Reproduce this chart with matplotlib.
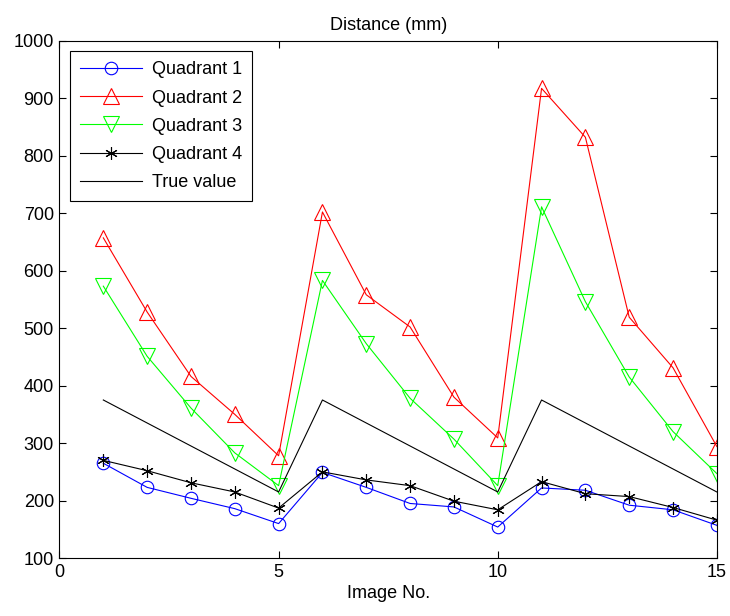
import matplotlib
matplotlib.use('Agg')
import matplotlib.pyplot as plt

plt.rcParams['font.family'] = ['Liberation Sans', 'DejaVu Sans']

# values
image_no = list(range(1, 16))
quadrant1 = [265, 223, 204, 186, 160, 249, 223, 195, 189, 154, 222, 218, 192, 184, 157]
quadrant2 = [657, 528, 416, 350, 278, 702, 558, 502, 380, 309, 917, 832, 519, 431, 294]
quadrant3 = [573, 451, 361, 283, 226, 583, 473, 378, 307, 226, 711, 546, 415, 320, 247]
quadrant4 = [270, 252, 231, 215, 187, 250, 236, 226, 199, 184, 233, 212, 207, 188, 166]
true_value = [375, 335, 295, 255, 215, 375, 335, 295, 255, 215, 375, 335, 295, 255, 215]

fig = plt.figure(figsize=(7.3, 6.16), dpi=100)
ax = fig.add_axes([0.0815, 0.094, 0.9005, 0.840])

lw = 0.8
ax.plot(image_no, quadrant1, color='#0000ff', lw=lw, marker='o', ms=9,
        mfc='none', mew=0.8, label='Quadrant 1')
ax.plot(image_no, quadrant2, color='#ff0000', lw=lw, marker='^', ms=11,
        mfc='none', mew=0.8, label='Quadrant 2')
ax.plot(image_no, quadrant3, color='#00ff00', lw=lw, marker='v', ms=11,
        mfc='none', mew=0.8, label='Quadrant 3')
ax.plot(image_no, quadrant4, color='black', lw=lw, marker=(6, 2, 0), ms=9,
        mew=0.8, label='Quadrant 4')
ax.plot(image_no, true_value, color='black', lw=lw, label='True value')

ax.set_xlim(0, 15)
ax.set_ylim(100, 1000)
ax.set_xticks([0, 5, 10, 15])
ax.set_yticks(range(100, 1001, 100))
ax.tick_params(direction='in', top=True, right=True, labelsize=13, length=5, pad=4)
ax.set_title('Distance (mm)', fontsize=13, pad=8)
ax.set_xlabel('Image No.', fontsize=13, labelpad=3)

leg = ax.legend(loc='upper left', fontsize=13, fancybox=False, framealpha=1,
                edgecolor='black', handlelength=3.4, handletextpad=0.55,
                borderaxespad=0.6, labelspacing=0.62, borderpad=0.55)
leg.get_frame().set_linewidth(0.8)

fig.savefig('out.png', dpi=100)
